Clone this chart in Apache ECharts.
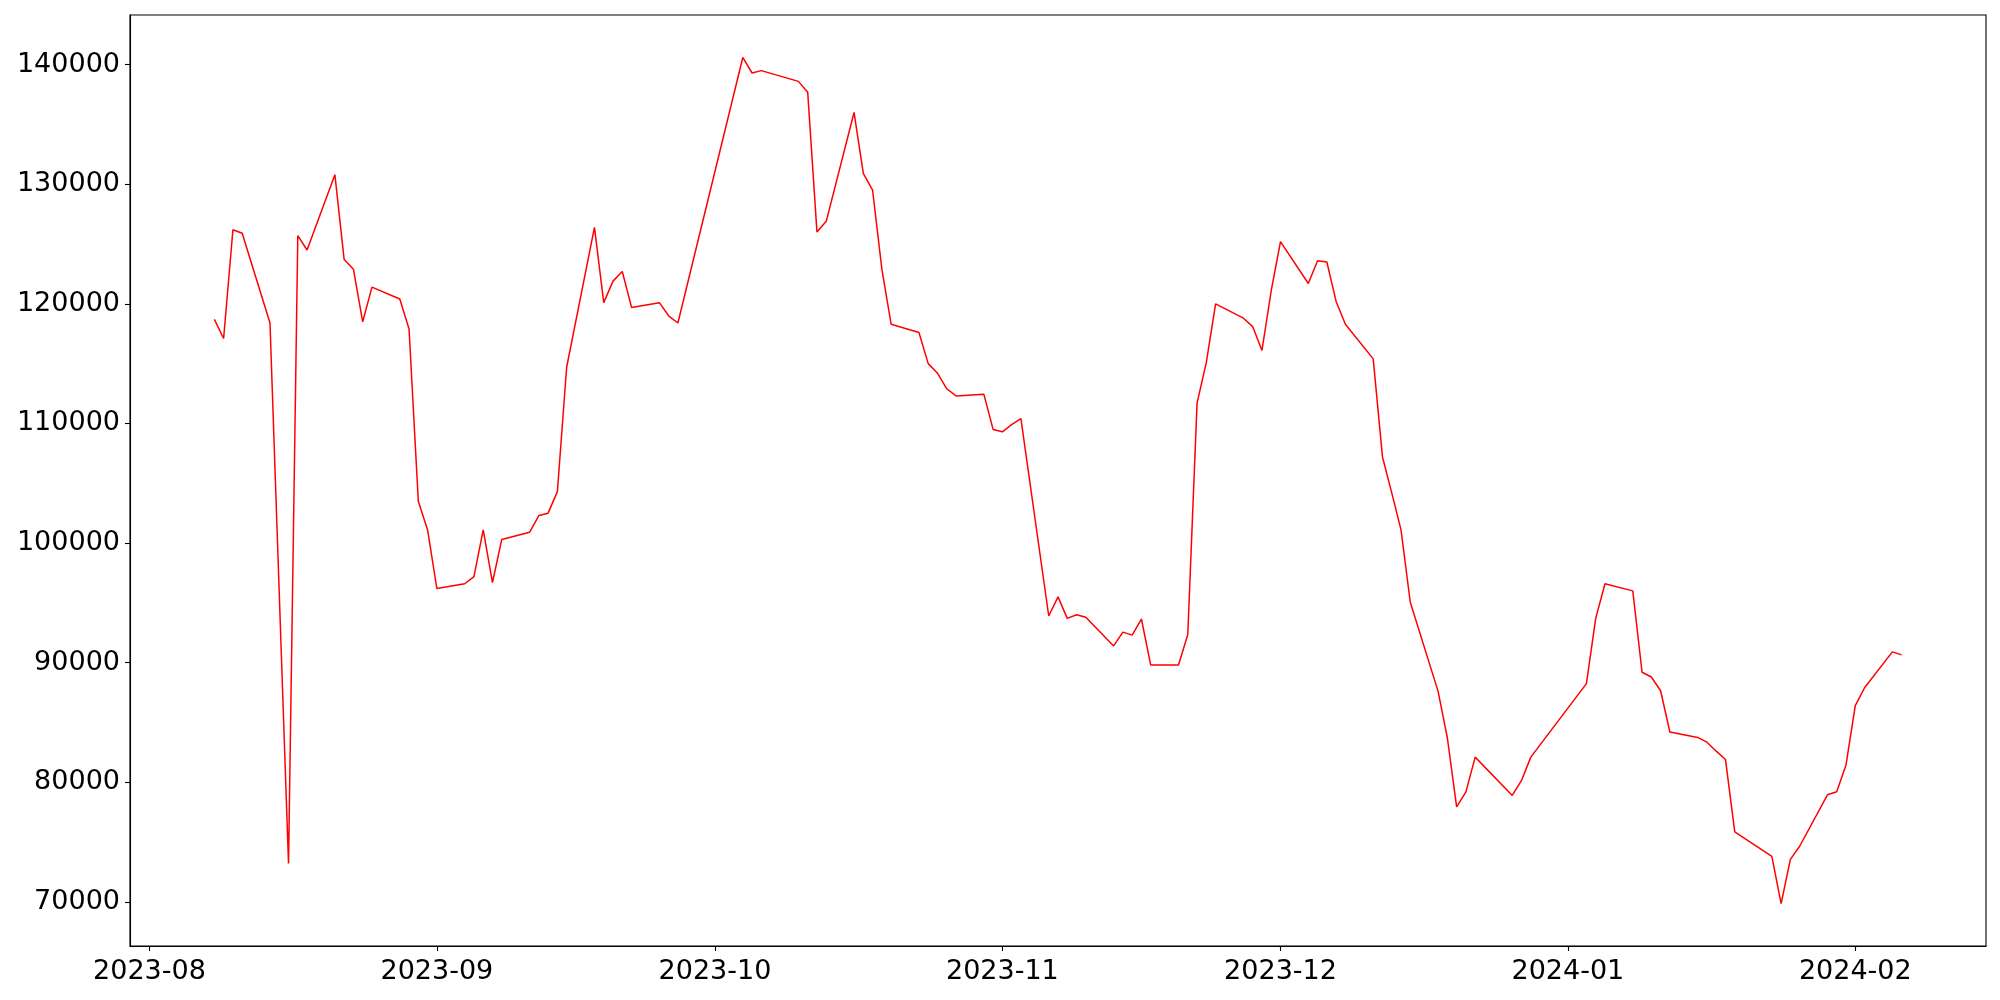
<!DOCTYPE html>
<html>
<head>
<meta charset="utf-8">
<script src="https://cdn.jsdelivr.net/npm/echarts@6/dist/echarts.min.js"></script>
<style>
  html, body { margin: 0; padding: 0; background: #ffffff; }
  #chart { width: 2000px; height: 1000px; }
</style>
</head>
<body>
<div id="chart"></div>
<script>
// Trading dates (business days)
const dates = [
  '2023-08-08','2023-08-09','2023-08-10','2023-08-11','2023-08-14','2023-08-16','2023-08-17','2023-08-18',
  '2023-08-21','2023-08-22','2023-08-23','2023-08-24','2023-08-25','2023-08-28','2023-08-29','2023-08-30','2023-08-31',
  '2023-09-01','2023-09-04','2023-09-05','2023-09-06','2023-09-07','2023-09-08','2023-09-11','2023-09-12','2023-09-13',
  '2023-09-14','2023-09-15','2023-09-18','2023-09-19','2023-09-20','2023-09-21','2023-09-22','2023-09-25','2023-09-26','2023-09-27',
  '2023-10-04','2023-10-05','2023-10-06','2023-10-10','2023-10-11','2023-10-12','2023-10-13','2023-10-16','2023-10-17',
  '2023-10-18','2023-10-19','2023-10-20','2023-10-23','2023-10-24','2023-10-25','2023-10-26','2023-10-27','2023-10-30','2023-10-31',
  '2023-11-01','2023-11-02','2023-11-03','2023-11-06','2023-11-07','2023-11-08','2023-11-09','2023-11-10','2023-11-13','2023-11-14',
  '2023-11-15','2023-11-16','2023-11-17','2023-11-20','2023-11-21','2023-11-22','2023-11-23','2023-11-24','2023-11-27','2023-11-28',
  '2023-11-29','2023-11-30',
  '2023-12-01','2023-12-04','2023-12-05','2023-12-06','2023-12-07','2023-12-08','2023-12-11','2023-12-12','2023-12-13','2023-12-14',
  '2023-12-15','2023-12-18','2023-12-19','2023-12-20','2023-12-21','2023-12-22','2023-12-26','2023-12-27','2023-12-28',
  '2024-01-03','2024-01-04','2024-01-05','2024-01-08','2024-01-09','2024-01-10','2024-01-11','2024-01-12','2024-01-15','2024-01-16',
  '2024-01-17','2024-01-18','2024-01-19','2024-01-23','2024-01-24','2024-01-25','2024-01-26','2024-01-29','2024-01-30','2024-01-31',
  '2024-02-01','2024-02-02','2024-02-05','2024-02-06'
];

const values = [
  118700, 117100, 126200, 125900, 118400, 73200, 125700, 124500,
  130800, 123700, 122900, 118500, 121400, 120400, 117900, 103500, 101100,
  96200, 96600, 97200, 101100, 96700, 100300, 100900, 102300, 102500,
  104300, 114700, 126400, 120100, 121900, 122700, 119700, 120100, 119000, 118400,
  140600, 139300, 139500, 138600, 137700, 126000, 126900, 136000, 130900,
  129500, 122900, 118300, 117600, 115000, 114200, 112900, 112300, 112450, 109500,
  109300, 109900, 110400, 93900, 95500, 93700, 94000, 93800, 91400, 92550,
  92300, 93650, 89800, 89800, 92350, 111700, 115100, 120000, 118800, 118100,
  116100, 121100,
  125200, 121700, 123600, 123500, 120200, 118300, 115400, 107200, 104200, 101100,
  95050, 87600, 83700, 77950, 79200, 82100, 78900, 80150, 82100,
  88250, 93700, 96600, 96000, 89200, 88800, 87650, 84200, 83750, 83350,
  82600, 81900, 75850, 73800, 69850, 73550, 74650, 78950, 79200, 81450,
  86400, 87900, 90900, 90650
];

const monthTickDates = ['2023-08-01','2023-09-01','2023-10-01','2023-11-01','2023-12-01','2024-01-01','2024-02-01'];
const monthTickLabels = ['2023-08','2023-09','2023-10','2023-11','2023-12','2024-01','2024-02'];
const yTickValues = [70000, 80000, 90000, 100000, 110000, 120000, 130000, 140000];

function toTs(s) {
  const p = s.split('-').map(Number);
  return Date.UTC(p[0], p[1] - 1, p[2]);
}

const monthTickTs = monthTickDates.map(toTs);
const seriesData = dates.map((d, i) => [toTs(d), values[i]]);

const xMin = Date.UTC(2023, 6, 29, 21, 36);
const xMax = Date.UTC(2024, 1, 15, 2, 24);

const chart = echarts.init(document.getElementById('chart'), null, { renderer: 'canvas' });
const font = 'DejaVu Sans';

chart.setOption({
  animation: false,
  backgroundColor: '#ffffff',
  grid: {
    left: 130, right: 14, top: 15, bottom: 54,
    show: true, borderColor: '#000000', borderWidth: 1.1, backgroundColor: '#ffffff',
    containLabel: false
  },
  xAxis: {
    type: 'value',
    min: xMin,
    max: xMax,
    axisLine: { show: true, lineStyle: { color: '#000000', width: 1.1 } },
    axisTick: {
      show: true, inside: false, length: 5,
      lineStyle: { color: '#000000', width: 1.1 },
      customValues: monthTickTs
    },
    axisLabel: {
      show: true,
      customValues: monthTickTs,
      showMinLabel: true,
      showMaxLabel: true,
      hideOverlap: false,
      margin: 12,
      color: '#000000',
      fontFamily: font,
      fontSize: 27,
      formatter: function (v) {
        const idx = monthTickTs.indexOf(v);
        if (idx >= 0) return monthTickLabels[idx];
        const d = new Date(v);
        return d.getUTCFullYear() + '-' + String(d.getUTCMonth() + 1).padStart(2, '0');
      }
    },
    splitLine: { show: false }
  },
  yAxis: {
    type: 'value',
    min: 66310,
    max: 144150,
    axisLine: { show: true, lineStyle: { color: '#000000', width: 1.1 } },
    axisTick: {
      show: true, inside: false, length: 5,
      lineStyle: { color: '#000000', width: 1.1 },
      customValues: yTickValues
    },
    axisLabel: {
      show: true,
      customValues: yTickValues,
      margin: 10,
      color: '#000000',
      fontFamily: font,
      fontSize: 27,
      formatter: function (v) { return String(v); }
    },
    splitLine: { show: false }
  },
  series: [{
    type: 'line',
    data: seriesData,
    showSymbol: false,
    symbol: 'none',
    lineStyle: { color: '#ff0000', width: 1.5 },
    itemStyle: { color: '#ff0000' }
  }]
});
</script>
</body>
</html>
